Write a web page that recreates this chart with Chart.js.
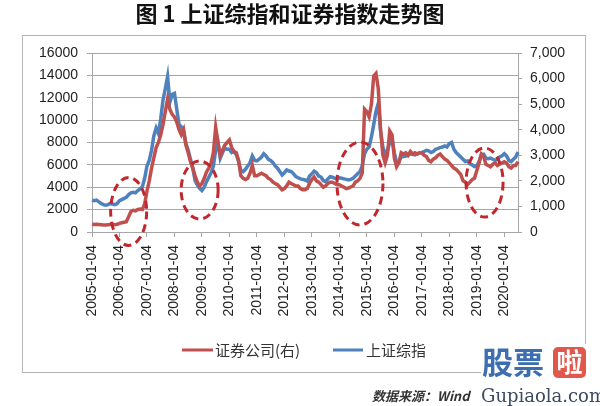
<!DOCTYPE html>
<html>
<head>
<meta charset="utf-8">
<script src="https://cdn.jsdelivr.net/npm/chart.js@4.4.1/dist/chart.umd.min.js"></script>
<style>
  html, body { margin: 0; padding: 0; background: #fff; }
  #myChart { display: block; }
</style>
</head>
<body>
<canvas id="myChart" width="600" height="406"></canvas>
<script>
// 月度数据 2005-01 ~ 2020-07（从图上读取，估计值）
const startYear = 2005;
const monthCount = 187;

// 证券公司指数（右轴）
const securities = [
  300, 290, 300, 290, 280, 270, 270, 280, 290, 290, 280, 300,            // 2005
  340, 360, 380, 400, 600, 800, 850, 830, 880, 900, 880, 1100,           // 2006
  1600, 2000, 2500, 2900, 3300, 3500, 3800, 4200, 4700, 5200, 4800, 4600, // 2007
  4500, 4300, 4000, 3800, 4000, 3400, 3100, 2750, 2500, 2200, 1950, 1800, // 2008
  1900, 2100, 2350, 2500, 2700, 3100, 4100, 3500, 3000, 3200, 3400, 3500, // 2009
  3600, 3300, 3150, 3100, 2800, 2200, 2100, 2050, 2100, 2300, 2600, 2200, // 2010
  2200, 2250, 2300, 2250, 2200, 2100, 2050, 1950, 1900, 1850, 1750, 1650, // 2011
  1700, 1800, 1950, 1900, 1850, 1800, 1800, 1700, 1650, 1650, 1700, 1900, // 2012
  2050, 2150, 2000, 1950, 1850, 1750, 1800, 1900, 1950, 1950, 1900, 1850, // 2013
  1850, 1800, 1750, 1700, 1720, 1760, 1800, 1950, 2000, 2100, 2300, 4800, // 2014
  4700, 4500, 5000, 6100, 6200, 5600, 4000, 3000, 2700, 3000, 3950, 3800, // 2015
  2900, 2550, 2700, 3100, 3050, 3100, 3000, 3150, 3050, 3100, 3050, 3100, // 2016
  3100, 3000, 2950, 2800, 2750, 2850, 2900, 3000, 3050, 2950, 2850, 2800, // 2017
  2700, 2600, 2500, 2450, 2350, 2250, 2000, 1950, 1850, 1950, 2050, 2100, // 2018
  2400, 2700, 3050, 2950, 2650, 2600, 2550, 2650, 2700, 2600, 2650, 2700, // 2019
  2750, 2700, 2550, 2500, 2600, 2600, 2750                                // 2020
];

// 上证综指（左轴）
const shanghai = [
  2850, 2800, 2850, 2700, 2550, 2450, 2400, 2450, 2550, 2500, 2450, 2550,       // 2005
  2800, 2900, 3000, 3100, 3350, 3500, 3550, 3500, 3700, 3850, 4050, 4800,       // 2006
  5900, 6400, 7300, 8600, 9300, 8800, 10100, 11800, 12800, 13900, 11600, 12300, // 2007
  12400, 11000, 9600, 9400, 9000, 7900, 7300, 6500, 5700, 4600, 4200, 3900,     // 2008
  3700, 4000, 4500, 4900, 5300, 5900, 7300, 8000, 6600, 7100, 7500, 7400,       // 2009
  7400, 7100, 7200, 6900, 6300, 5500, 5400, 5600, 5900, 6200, 6800, 6400,       // 2010
  6350, 6500, 6700, 7000, 6800, 6500, 6400, 6200, 5900, 5700, 5400, 5100,       // 2011
  5300, 5550, 5450, 5400, 5200, 4950, 4850, 4750, 4700, 4650, 4550, 5000,       // 2012
  5200, 5450, 5300, 5000, 4900, 4600, 4500, 4750, 4950, 4900, 4800, 4750,       // 2013
  4850, 4800, 4750, 4700, 4650, 4700, 4800, 5000, 5200, 5400, 5900, 7000,       // 2014
  7400, 7600, 8500, 9600, 10800, 11500, 9000, 7600, 6900, 7300, 8000, 8300,     // 2015
  7100, 6200, 6300, 6700, 6750, 6800, 6850, 7000, 6950, 6900, 7000, 7050,       // 2016
  7100, 7200, 7300, 7250, 7100, 7200, 7400, 7450, 7550, 7600, 7700, 7600,       // 2017
  7900, 8000, 7400, 7100, 6900, 6700, 6500, 6300, 6350, 6100, 6000, 5850,       // 2018
  5900, 6300, 6900, 6950, 6600, 6550, 6600, 6500, 6400, 6500, 6700, 6800,       // 2019
  7000, 6800, 6400, 6300, 6500, 6700, 7150                                      // 2020
];

// 日期标签（每月一个，只显示每年 01-04）
const months = [];
for (let i = 0; i < monthCount; i++) {
  const y = startYear + Math.floor(i / 12);
  const m = (i % 12) + 1;
  months.push(y + '-' + String(m).padStart(2, '0') + '-04');
}

// 红色虚线圈：[月份序号, 左轴值, 横半径, 纵半径]
const circles = [
  [16, 1840, 18, 34],
  [47, 3750, 18.5, 29],
  [117, 4330, 23, 41.5],
  [171.4, 4420, 18.5, 34.5]
];

const redColor = '#c0504d';
const blueColor = '#4f81bd';
const gridColor = '#a6a6a6';
const numFont = { family: '"Liberation Sans", Arial, sans-serif', size: 14 };

const decor = {
  id: 'decor',
  beforeDraw(chart) {
    const c = chart.ctx;
    c.save();
    c.fillStyle = '#fff';
    c.fillRect(0, 0, chart.width, chart.height);
    c.strokeStyle = '#b4b4b4';
    c.lineWidth = 1;
    c.strokeRect(22.5, 35.5, 563, 337);
    c.restore();
  },
  afterDatasetsDraw(chart) {
    const c = chart.ctx;
    const xs = chart.scales.x, ys = chart.scales.y;
    c.save();
    c.strokeStyle = '#c0282d';
    c.lineWidth = 3;
    c.setLineDash([8, 5]);
    circles.forEach(e => {
      const i0 = Math.floor(e[0]);
      const px = xs.getPixelForValue(i0) + (e[0] - i0) * (xs.getPixelForValue(1) - xs.getPixelForValue(0));
      const py = ys.getPixelForValue(e[1]);
      c.beginPath();
      c.ellipse(px, py, e[2], e[3], 0, 0, Math.PI * 2);
      c.stroke();
    });
    c.restore();
  },
  afterDraw(chart) {
    const c = chart.ctx;
    c.save();
    // 标题
    c.fillStyle = '#111';
    c.font = 'bold 22px "Noto Sans CJK SC", sans-serif';
    c.textAlign = 'center';
    c.textBaseline = 'middle';
    c.fillText('图 1 上证综指和证券指数走势图', 290, 14);

    // 图例
    c.lineWidth = 3;
    c.strokeStyle = redColor;
    c.beginPath(); c.moveTo(182, 350); c.lineTo(213, 350); c.stroke();
    c.strokeStyle = blueColor;
    c.beginPath(); c.moveTo(333, 350); c.lineTo(363, 350); c.stroke();
    c.fillStyle = '#333';
    c.font = '15px "Noto Sans CJK SC", sans-serif';
    c.textAlign = 'left';
    c.fillText('证券公司(右)', 215, 350);
    c.fillText('上证综指', 366, 350);

    // 水印
    c.fillStyle = '#fff';
    c.fillRect(481, 344, 119, 62);
    c.fillStyle = '#3d6fb0';
    c.font = 'bold 31px "Noto Sans CJK SC", sans-serif';
    c.fillText('股票', 482, 362);
    c.fillStyle = '#e2574c';
    c.beginPath();
    c.roundRect(553, 347, 33, 31, 5);
    c.fill();
    c.fillStyle = '#fff';
    c.font = 'bold 26px "Noto Sans CJK SC", sans-serif';
    c.textAlign = 'center';
    c.fillText('啦', 569.5, 362);
    c.fillStyle = '#3a4a60';
    c.font = '18px "DejaVu Serif", "Liberation Serif", serif';
    c.textAlign = 'left';
    c.fillText('Gupiaola.com', 481, 397);

    // 数据来源
    c.font = 'italic bold 13px "Noto Sans CJK SC", sans-serif';
    c.fillStyle = '#333';
    c.fillText('数据来源：Wind', 372, 396);
    c.restore();
  }
};

const ctx = document.getElementById('myChart');
new Chart(ctx, {
  type: 'line',
  data: {
    labels: months,
    datasets: [{
      label: '证券公司(右)',
      data: securities,
      yAxisID: 'y1',
      borderColor: redColor,
      borderWidth: 3.5,
      pointRadius: 0,
      tension: 0
    },
    {
      label: '上证综指',
      data: shanghai,
      yAxisID: 'y',
      borderColor: blueColor,
      borderWidth: 3.5,
      pointRadius: 0,
      tension: 0
    }]
  },
  options: {
    responsive: false,
    animation: false,
    layout: { padding: { top: 53, left: 0, right: 0, bottom: 0 } },
    plugins: {
      legend: { display: false },
      title: { display: false },
      tooltip: { enabled: false }
    },
    scales: {
      x: {
        ticks: {
          autoSkip: false,
          minRotation: 90,
          maxRotation: 90,
          padding: 8,
          color: '#222',
          font: numFont,
          callback: function(value, index) {
            return index % 12 === 0 ? months[index] : null;
          }
        },
        grid: { drawOnChartArea: false, color: gridColor, tickLength: 5 },
        border: { color: gridColor },
        afterFit: function(scale) { scale.height = 174; }
      },
      y: {
        position: 'left',
        min: 0,
        max: 16000,
        ticks: {
          stepSize: 2000,
          padding: 9,
          color: '#222',
          font: numFont,
          callback: function(value) { return String(value); }
        },
        grid: { color: gridColor, tickLength: 5 },
        border: { color: gridColor },
        afterFit: function(scale) { scale.width = 92; }
      },
      y1: {
        position: 'right',
        min: 0,
        max: 7000,
        ticks: {
          stepSize: 1000,
          padding: 8,
          color: '#222',
          font: numFont,
          callback: function(value) { return value.toLocaleString('en-US'); }
        },
        grid: { drawOnChartArea: false, color: gridColor, tickLength: 4 },
        border: { color: gridColor },
        afterFit: function(scale) { scale.width = 82; }
      }
    }
  },
  plugins: [decor]
});
</script>
</body>
</html>
